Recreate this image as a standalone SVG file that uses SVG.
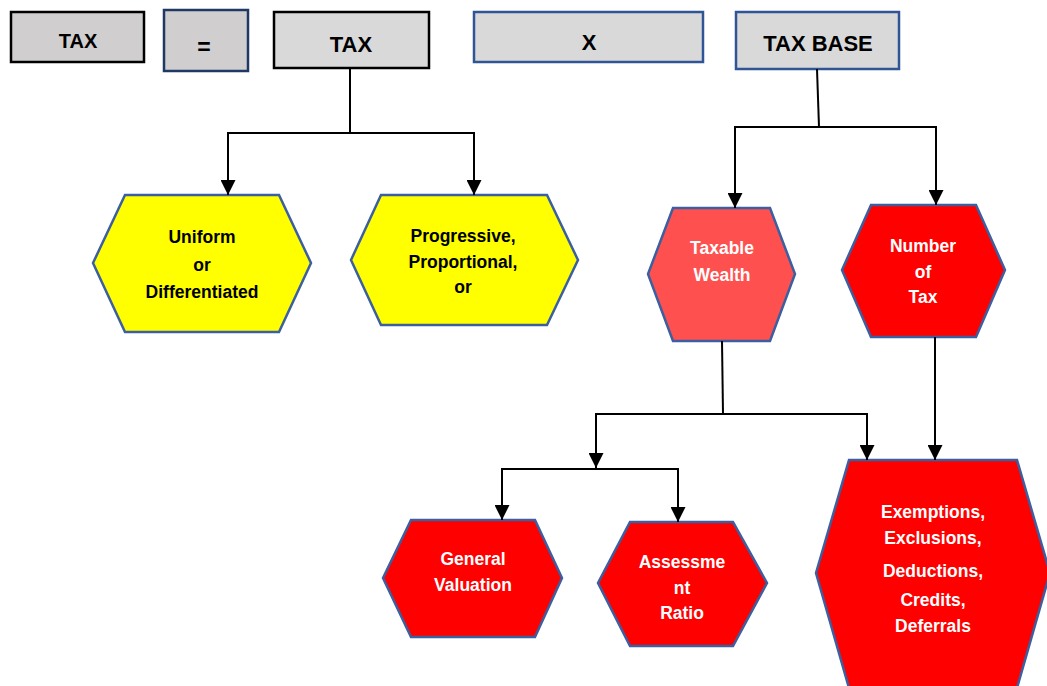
<svg xmlns="http://www.w3.org/2000/svg" width="1047" height="686" viewBox="0 0 1047 686">
<defs>
<marker id="arr" markerUnits="userSpaceOnUse" markerWidth="15" markerHeight="15" refX="15" refY="7.5" orient="auto">
<path d="M0,0 L15,7.5 L0,15 z" fill="#000"/>
</marker>
<style>
.box{fill:#d9d9d9;stroke-width:2.5}
.blk{stroke:#000}
.blu{stroke:#2f5597}
.nav{stroke:#1f3864}
.hex{stroke:#3b5fa0;stroke-width:2.5}
.yel{fill:#ffff00}
.red{fill:#ff0000}
.lred{fill:#ff5050}
.t{font-family:"Liberation Sans",Arial,sans-serif;font-weight:bold;text-anchor:middle}
.tb{font-size:21px;fill:#000}
.ty{font-size:17.5px;fill:#000}
.tw{font-size:17.5px;fill:#fff}
.con{fill:none;stroke:#000;stroke-width:2}
</style>
</defs>
<rect width="1047" height="686" fill="#fff"/>
<g id="tax1"><rect class="box blk" x="11" y="12" width="133" height="50" style="fill:#d0cece"/><text class="t tb" x="78" y="48" style="font-size:20px">TAX</text></g>
<g id="eq"><rect class="box nav" x="164" y="10" width="84" height="61" style="fill:#d0cece"/><text class="t tb" x="204" y="55" style="font-size:23px">=</text></g>
<g id="tax2"><rect class="box blk" x="274" y="12" width="155" height="56"/><text class="t tb" x="351" y="52" style="font-size:22px">TAX</text></g>
<g id="x"><rect class="box blu" x="474" y="12" width="229" height="50"/><text class="t tb" x="589" y="50" style="font-size:22px">X</text></g>
<g id="taxbase"><rect class="box blu" x="736" y="12" width="163" height="57"/><text class="t tb" x="818" y="51" style="font-size:22px">TAX BASE</text></g>
<g id="uniform"><polygon class="hex yel" points="125,195 279,195 311,263 279,332 125,332 93,263"/>
<text class="t ty" x="202" y="243">Uniform</text><text class="t ty" x="202" y="271">or</text><text class="t ty" x="202" y="298">Differentiated</text></g>
<g id="progressive"><polygon class="hex yel" points="381,195 547,195 578,260 547,325 381,325 351,260"/>
<text class="t ty" x="463" y="242">Progressive,</text><text class="t ty" x="463" y="268">Proportional,</text><text class="t ty" x="463" y="293">or</text></g>
<g id="taxable"><polygon class="hex lred" points="673,208 770,208 795,274 770,341 673,341 648,274"/>
<text class="t tw" x="722" y="254">Taxable</text><text class="t tw" x="722" y="281">Wealth</text></g>
<g id="number"><polygon class="hex red" points="871,205 976,205 1005,270 976,337 871,337 842,270"/>
<text class="t tw" x="923" y="252">Number</text><text class="t tw" x="923" y="278">of</text><text class="t tw" x="923" y="303">Tax</text></g>
<g id="general"><polygon class="hex red" points="411,520 535,520 562,578 535,637 411,637 383,578"/>
<text class="t tw" x="473" y="565">General</text><text class="t tw" x="473" y="591">Valuation</text></g>
<g id="assessment"><polygon class="hex red" points="630,522 733,522 767,583 733,646 630,646 598,583"/>
<text class="t tw" x="682" y="568">Assessme</text><text class="t tw" x="682" y="594">nt</text><text class="t tw" x="682" y="619">Ratio</text></g>
<g id="exemptions"><polygon class="hex red" points="849,460 1017,460 1050,573 1017,688 849,688 816,573"/>
<text class="t tw" x="933" y="518">Exemptions,</text><text class="t tw" x="933" y="544">Exclusions,</text><text class="t tw" x="933" y="577">Deductions,</text><text class="t tw" x="933" y="606">Credits,</text><text class="t tw" x="933" y="632">Deferrals</text></g>
<g id="connectors">
<path class="con" d="M350,68 V133"/>
<path class="con" d="M350,133 H228 V195" marker-end="url(#arr)"/>
<path class="con" d="M350,133 H474 V195" marker-end="url(#arr)"/>
<path class="con" d="M817,69 L819,127"/>
<path class="con" d="M819,127 H735 V208" marker-end="url(#arr)"/>
<path class="con" d="M819,127 H936 V205" marker-end="url(#arr)"/>
<path class="con" d="M722,341 L723,414"/>
<path class="con" d="M723,414 H596 V468" marker-end="url(#arr)"/>
<path class="con" d="M723,414 H867 V460" marker-end="url(#arr)"/>
<path class="con" d="M935,337 V460" marker-end="url(#arr)"/>
<path class="con" d="M596,469 H502 V520" marker-end="url(#arr)"/>
<path class="con" d="M596,469 H678 V522" marker-end="url(#arr)"/>
</g>
</svg>
